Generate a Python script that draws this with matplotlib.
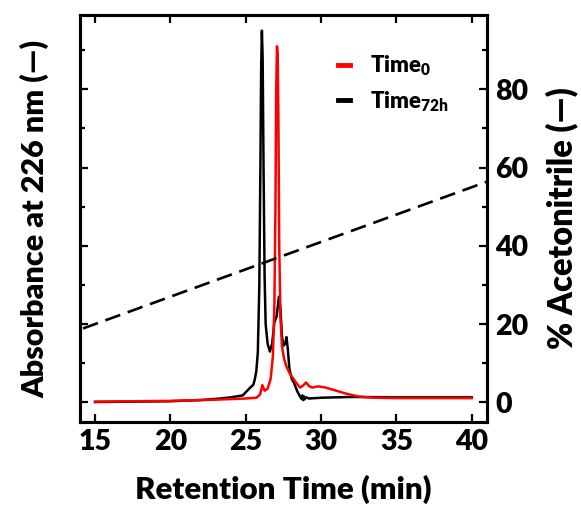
import matplotlib
matplotlib.use("Agg")
import matplotlib.pyplot as plt
from matplotlib.ticker import MultipleLocator

W = 'heavy'
plt.rcParams['font.family'] = ['Lato', 'DejaVu Sans']
plt.rcParams['font.weight'] = W
plt.rcParams['mathtext.fontset'] = 'custom'
plt.rcParams['mathtext.bf'] = 'Lato:heavy'
plt.rcParams['mathtext.rm'] = 'Lato:heavy'
plt.rcParams['mathtext.default'] = 'bf'

# Time0 trace (red)
t0_time = [15, 20, 23, 25, 25.7, 25.95, 26.1, 26.25, 26.45, 26.65, 26.8, 26.9, 26.97,
           27.02, 27.07, 27.12, 27.17, 27.22, 27.3, 27.4, 27.55, 27.7, 27.9, 28.1, 28.35,
           28.6, 28.8, 29.0, 29.2, 29.4, 29.8, 30.3, 31, 31.7, 32.5, 33.5, 35, 40]
t0_abs = [0.2, 0.4, 0.7, 1.0, 1.2, 2.0, 4.4, 3.0, 3.5, 6.0, 11.8, 25, 50,
          80, 91, 89, 70, 40, 22, 14.4, 11, 9.2, 7.5, 6.4, 5.0,
          3.8, 4.3, 5.1, 4.2, 3.8, 4.1, 3.8, 3.0, 2.2, 1.5, 1.2, 1.1, 1.1]

# Time72h trace (black)
t72_time = [15, 20, 22, 23.3, 24, 24.5, 24.8, 25.1, 25.3, 25.5, 25.6, 25.7, 25.8, 25.9,
            25.97, 26.02, 26.07, 26.12, 26.18, 26.25, 26.32, 26.45, 26.6, 26.75, 26.9,
            27.05, 27.2, 27.3, 27.4, 27.5, 27.62, 27.7, 27.78, 27.9, 28.05, 28.2, 28.4,
            28.6, 28.7, 28.75, 28.8, 28.85, 28.9, 29.0, 29.2, 30, 32, 35, 40]
t72_abs = [0.1, 0.3, 0.6, 1.0, 1.3, 1.6, 1.8, 3.0, 3.8, 4.5, 5.9, 8.0, 12.8, 30,
           60, 85, 95, 88, 60, 32, 20, 15, 13, 15, 20.5,
           22, 27, 24, 17, 14.5, 15, 16.7, 14, 8.5, 6.0, 5.0, 3.0,
           1.5, 0.9, 1.8, 0.6, 1.6, 0.8, 1.3, 1.0, 1.2, 1.4, 1.3, 1.3]

# Acetonitrile gradient (dashed)
acn_time = [14.2, 41]
acn_pct = [18.9, 56.4]

x_ticks = [15, 20, 25, 30, 35, 40]
y_ticks = [0, 20, 40, 60, 80]

fig = plt.figure(figsize=(5.81, 5.15), dpi=100)
ax = fig.add_axes([0.1377, 0.1806, 0.7003, 0.7903])
ax2 = ax.twinx()

ax.plot(t0_time, t0_abs, color='#ff0000', lw=1.8, label='Time$_{0}$', zorder=3)
ax.plot(t72_time, t72_abs, color='black', lw=1.8, label='Time$_{72h}$', zorder=2)
ax2.plot(acn_time, acn_pct, color='black', lw=1.9, dashes=(6, 3))

for a in (ax, ax2):
    a.set_xlim(14, 41)
    a.set_ylim(-5, 99)
    a.yaxis.set_major_locator(MultipleLocator(20))
    a.yaxis.set_minor_locator(MultipleLocator(10))
    for s in a.spines.values():
        s.set_linewidth(2.2)

ax.set_xticks(x_ticks)
ax.tick_params(axis='x', which='major', direction='in', length=6, width=1.6,
               top=True, labelsize=20.5, pad=5)
ax.tick_params(axis='y', which='both', direction='in', width=1.6, labelleft=False,
               right=False)
ax.tick_params(axis='y', which='major', length=6)
ax.tick_params(axis='y', which='minor', length=3.5)

ax2.set_yticks(y_ticks)
ax2.tick_params(axis='y', which='both', direction='in', width=1.6, labelsize=20.5, pad=6)
ax2.tick_params(axis='y', which='major', length=6)
ax2.tick_params(axis='y', which='minor', length=3.5)
for lab in ax.get_xticklabels() + ax2.get_yticklabels():
    lab.set_fontweight(W)

ax.set_xlabel('Retention Time (min)', fontsize=22.5, fontweight=W, labelpad=14)
ax.set_ylabel('Absorbance at 226 nm (—)', fontsize=22, fontweight=W, labelpad=22)
ax2.set_ylabel('% Acetonitrile (—)', fontsize=23.5, fontweight=W, labelpad=12)

leg = ax.legend(loc='upper left', bbox_to_anchor=(0.585, 0.955), frameon=False,
                handlelength=0.55, handletextpad=0.9, labelspacing=0.5,
                prop={'size': 16, 'weight': W})
for h in leg.legend_handles:
    h.set_linewidth(3.5)

fig.savefig('out.png', dpi=100)
